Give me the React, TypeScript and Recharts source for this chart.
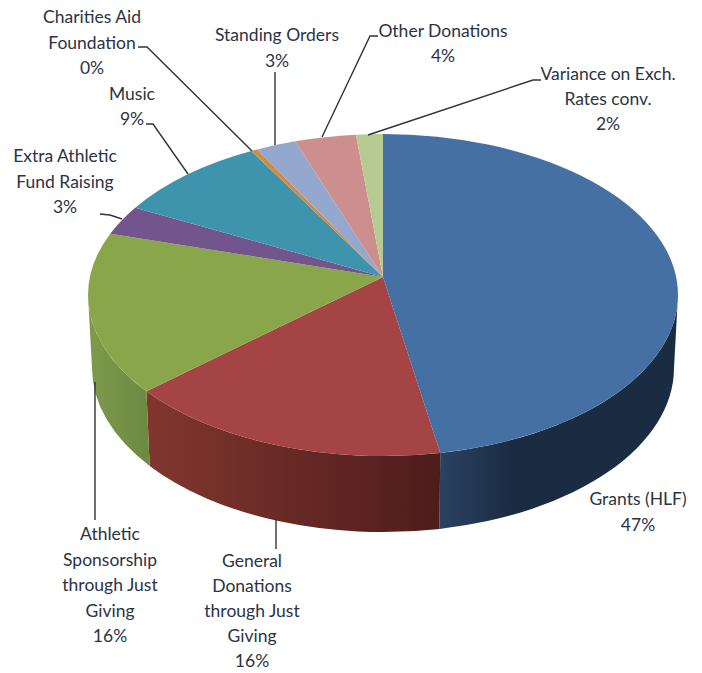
import { Pie, PieChart, Cell } from 'recharts'

const categories = [
  'Grants (HLF)',
  'General Donations through Just Giving',
  'Athletic Sponsorship through Just Giving',
  'Extra Athletic Fund Raising',
  'Music',
  'Charities Aid Foundation',
  'Standing Orders',
  'Other Donations',
  'Variance on Exch. Rates conv.',
]
// slice shares as they measure on the drawing
const shares = [46.85, 17.9, 16.4, 2.9, 8.5, 0.35, 2.2, 3.35, 1.46]
const percentLabels = ['47%', '16%', '16%', '3%', '9%', '0%', '3%', '4%', '2%']
const colors = ['#4570a4', '#a54444', '#8aa64b', '#73558d', '#3f94ad', '#d58a3f', '#93a8cc', '#cd8f8e', '#b7ca92']

const labelLines = [
  ['Grants (HLF)'],
  ['General', 'Donations', 'through Just', 'Giving'],
  ['Athletic', 'Sponsorship', 'through Just', 'Giving'],
  ['Extra Athletic', 'Fund Raising'],
  ['Music'],
  ['Charities Aid', 'Foundation'],
  ['Standing Orders'],
  ['Other Donations'],
  ['Variance on Exch.', 'Rates conv.'],
]

// label placement: centre x, first baseline, line step, leader points
const labelLayout = [
  { x: 638, y: 505, step: 26, leader: '' },
  { x: 252, y: 567, step: 25, leader: '276,519 276,549' },
  { x: 110, y: 540, step: 25.5, leader: '95,382 95,520' },
  { x: 65, y: 162, step: 25.5, leader: '100,214 110,215 122,219' },
  { x: 132, y: 100, step: 25, leader: '146,124 153,124 188,174' },
  { x: 92, y: 23, step: 25.5, leader: '138,47 147,47 252,151' },
  { x: 277, y: 41, step: 26, leader: '275,72 275,145' },
  { x: 443, y: 37, step: 25, leader: '378,36 370,36 322,137' },
  { x: 608, y: 80, step: 25, leader: '541,80 533,80 368,135' },
]

// wall gradient colours, left to right
const wallStops: Record<number, [string, string]> = {
  0: ['#2a4362', '#1a2c42'],
  1: ['#81362f', '#4e1c1b'],
  2: ['#7e9a4c', '#6e8a42'],
}

const chartData = categories.map((name, i) => ({ name, value: shares[i] }))

const CX = 383
const CY = 277
const RX = 295
const RY = 161
const TOP_SHIFT = 18
const BOTTOM_RX = 291
const BOTTOM_RY = 164
const BOTTOM_SHIFT = 91

const rad = (d: number) => (d * Math.PI) / 180

// top face point, clockwise angle from 12 o'clock
const topPt = (t: number) => [CX + RX * Math.sin(rad(t)), CY + TOP_SHIFT - RY * Math.cos(rad(t))]
const botPt = (t: number) => [CX + BOTTOM_RX * Math.sin(rad(t)), CY + BOTTOM_SHIFT - BOTTOM_RY * Math.cos(rad(t))]

function PieSlice(props: any) {
  const { startAngle, endAngle, index, fill } = props
  const a = 90 - startAngle
  const b = 90 - endAngle
  const [x0, y0] = topPt(a)
  const [x1, y1] = topPt(b)
  const large = b - a > 180 ? 1 : 0
  const top = `M${CX},${CY} L${x0},${y0} A${RX},${RY} 0 ${large} 1 ${x1},${y1} Z`

  const wa = Math.max(a, 90)
  const wb = Math.min(b, 270)
  let wall = null
  if (wb > wa) {
    const [ax, ay] = topPt(wa)
    const [bx, by] = topPt(wb)
    const [cx, cy] = botPt(wb)
    const [dx, dy] = botPt(wa)
    const d = `M${ax},${ay} A${RX},${RY} 0 0 1 ${bx},${by} L${cx},${cy} A${BOTTOM_RX},${BOTTOM_RY} 0 0 0 ${dx},${dy} Z`
    const stops = wallStops[index] || [fill, fill]
    const left = Math.min(ax, bx)
    const right = index === 0 ? left + 70 : Math.max(ax, bx)
    wall = (
      <g>
        <defs>
          <linearGradient id={`wall${index}`} gradientUnits="userSpaceOnUse" x1={left} x2={right} y1="0" y2="0">
            <stop offset="0" stopColor={stops[0]} />
            <stop offset="1" stopColor={stops[1]} />
          </linearGradient>
        </defs>
        <path d={d} fill={`url(#wall${index})`} />
      </g>
    )
  }
  return (
    <g>
      {wall}
      <path d={top} fill={fill} />
    </g>
  )
}

function SliceLabel(props: any) {
  const { index } = props
  const spot = labelLayout[index]
  const lines = [...labelLines[index], percentLabels[index]]
  return (
    <g>
      {spot.leader && <polyline points={spot.leader} fill="none" stroke="#333" strokeWidth={1.4} />}
      <text textAnchor="middle" fontFamily="Lato, 'Open Sans', sans-serif" fontSize={17.5} fill="#2b3345">
        {lines.map((line, i) => (
          <tspan key={i} x={spot.x} y={spot.y + i * spot.step}>
            {line}
          </tspan>
        ))}
      </text>
    </g>
  )
}

export default function App() {
  return (
    <div style={{ position: 'absolute', left: 0, top: 0, width: 702, height: 673, background: '#fff' }}>
      <PieChart width={702} height={673} margin={{ top: 0, right: 0, bottom: 0, left: 0 }}>
        <Pie
          data={chartData}
          dataKey="value"
          nameKey="name"
          cx={CX}
          cy={CY}
          outerRadius={RX}
          startAngle={90}
          endAngle={-270}
          stroke="none"
          shape={PieSlice}
          label={SliceLabel}
          labelLine={false}
          isAnimationActive={false}
        >
          {chartData.map((d, i) => (
            <Cell key={d.name} fill={colors[i]} />
          ))}
        </Pie>
      </PieChart>
    </div>
  )
}
